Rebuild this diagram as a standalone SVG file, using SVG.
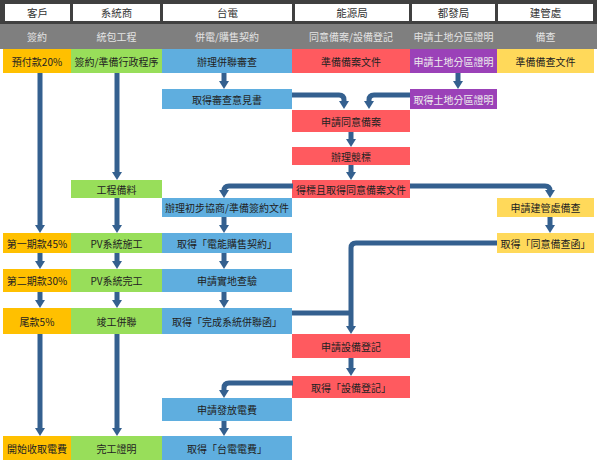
<svg xmlns="http://www.w3.org/2000/svg" width="600" height="466" viewBox="0 0 600 466">
<style>
text{font-family:"Noto Sans CJK TC","Noto Sans CJK SC",sans-serif;font-size:10px;text-anchor:middle;dominant-baseline:central;fill:#222}
.hd{fill:#333;font-size:10.5px}
.sub{fill:#e4e4e4}
.cell{fill:#fff}
.o{fill:#FFC000}
.g{fill:#98DE5A}
.b{fill:#5FAEDF}
.r{fill:#FF5A5F}
.p{fill:#9B41B8}
.y{fill:#FFD95A}
.pt{fill:#eee}
.c path{fill:none;stroke:#34608F;stroke-width:5;marker-end:url(#ah)}
</style>
<defs>
<marker id="ah" markerUnits="userSpaceOnUse" viewBox="0 0 8 10" refX="2" refY="5" markerWidth="8" markerHeight="10" orient="auto">
<path d="M0,0 L8,5 L0,10 z" fill="#34608F"/>
</marker>
</defs>
<rect width="600" height="466" fill="#fff"/>
<g id="header">
<rect x="0" y="0" width="597" height="24" fill="#404040"/>
<rect class="cell" x="5" y="4" width="65" height="17"/>
<rect class="cell" x="73" y="4" width="87" height="17"/>
<rect class="cell" x="163" y="4" width="129" height="17"/>
<rect class="cell" x="295" y="4" width="114" height="17"/>
<rect class="cell" x="412" y="4" width="83" height="17"/>
<rect class="cell" x="498" y="4" width="95" height="17"/>
<text class="hd" x="37.5" y="12.5">客戶</text>
<text class="hd" x="116.5" y="12.5">系統商</text>
<text class="hd" x="227.5" y="12.5">台電</text>
<text class="hd" x="352" y="12.5">能源局</text>
<text class="hd" x="453.5" y="12.5">都發局</text>
<text class="hd" x="545.5" y="12.5">建管處</text>
<rect x="0" y="24" width="597" height="25" fill="#7F7F7F"/>
<text class="sub" x="37" y="36">簽約</text>
<text class="sub" x="116.5" y="36">統包工程</text>
<text class="sub" x="227" y="36">併電/購售契約</text>
<text class="sub" x="351" y="36">同意備案/設備登記</text>
<text class="sub" x="453.5" y="36">申請土地分區證明</text>
<text class="sub" x="545.5" y="36">備查</text>
</g>
<g id="n1"><rect class="o" x="3" y="49" width="68" height="24"/><text x="37" y="61">預付款20%</text></g>
<g id="n2"><rect class="g" x="71" y="49" width="91" height="24"/><text x="116.5" y="61">簽約/準備行政程序</text></g>
<g id="n3"><rect class="b" x="162" y="49" width="130" height="24"/><text x="227" y="61">辦理併聯審查</text></g>
<g id="n4"><rect class="r" x="292" y="49" width="118" height="24"/><text x="351" y="61">準備備案文件</text></g>
<g id="n5"><rect class="p" x="410" y="49" width="87" height="24"/><text class="pt" x="453.5" y="61">申請土地分區證明</text></g>
<g id="n6"><rect class="y" x="497" y="49" width="97" height="24"/><text x="545.5" y="61">準備備查文件</text></g>
<g id="n7"><rect class="b" x="162" y="89" width="130" height="20"/><text x="227" y="99">取得審查意見書</text></g>
<g id="n8"><rect class="p" x="410" y="89" width="87" height="20"/><text class="pt" x="453.5" y="99">取得土地分區證明</text></g>
<g id="n9"><rect class="r" x="292" y="110" width="118" height="22"/><text x="351" y="121">申請同意備案</text></g>
<g id="n10"><rect class="r" x="292" y="147" width="118" height="18"/><text x="351" y="156">辦理競標</text></g>
<g id="n11"><rect class="r" x="292" y="180" width="118" height="18"/><text x="351" y="189">得標且取得同意備案文件</text></g>
<g id="n12"><rect class="g" x="71" y="180" width="91" height="18"/><text x="116.5" y="189">工程備料</text></g>
<g id="n13"><rect class="b" x="162" y="198" width="130" height="19"/><text x="227" y="207.5">辦理初步協商/準備簽約文件</text></g>
<g id="n14"><rect class="y" x="497" y="198" width="97" height="19"/><text x="545.5" y="207.5">申請建管處備查</text></g>
<g id="n15"><rect class="o" x="3" y="233" width="68" height="20"/><text x="37" y="243">第一期款45%</text></g>
<g id="n16"><rect class="g" x="71" y="233" width="91" height="20"/><text x="116.5" y="243">PV系統施工</text></g>
<g id="n17"><rect class="b" x="162" y="233" width="130" height="20"/><text x="227" y="243">取得「電能購售契約」</text></g>
<g id="n18"><rect class="y" x="497" y="233" width="97" height="20"/><text x="545.5" y="243">取得「同意備查函」</text></g>
<g id="n19"><rect class="o" x="3" y="269" width="68" height="23"/><text x="37" y="280.5">第二期款30%</text></g>
<g id="n20"><rect class="g" x="71" y="269" width="91" height="23"/><text x="116.5" y="280.5">PV系統完工</text></g>
<g id="n21"><rect class="b" x="162" y="269" width="130" height="23"/><text x="227" y="280.5">申請實地查驗</text></g>
<g id="n22"><rect class="o" x="3" y="308" width="68" height="26"/><text x="37" y="321">尾款5%</text></g>
<g id="n23"><rect class="g" x="71" y="308" width="91" height="26"/><text x="116.5" y="321">竣工併聯</text></g>
<g id="n24"><rect class="b" x="162" y="308" width="130" height="26"/><text x="227" y="321">取得「完成系統併聯函」</text></g>
<g id="n25"><rect class="r" x="292" y="334" width="118" height="24"/><text x="351" y="346">申請設備登記</text></g>
<g id="n26"><rect class="r" x="292" y="376" width="118" height="22"/><text x="351" y="387">取得「設備登記」</text></g>
<g id="n27"><rect class="b" x="162" y="398" width="130" height="23"/><text x="227" y="409.5">申請發放電費</text></g>
<g id="n28"><rect class="o" x="3" y="436" width="68" height="24"/><text x="37" y="448">開始收取電費</text></g>
<g id="n29"><rect class="g" x="71" y="436" width="91" height="24"/><text x="116.5" y="448">完工證明</text></g>
<g id="n30"><rect class="b" x="162" y="436" width="130" height="24"/><text x="227" y="448">取得「台電電費」</text></g>
<g id="connectors" class="c">
<path d="M40,73 V227"/>
<path d="M40,253 V263"/>
<path d="M40,292 V302"/>
<path d="M40,334 V430"/>
<path d="M117,73 V174"/>
<path d="M117,198 V227"/>
<path d="M117,253 V263"/>
<path d="M117,292 V302"/>
<path d="M117,334 V430"/>
<path d="M224,73 V83"/>
<path d="M224,217 V227"/>
<path d="M224,253 V263"/>
<path d="M224,292 V302"/>
<path d="M224,421 V430"/>
<path d="M458,73 V83"/>
<path d="M292,95 H339 Q344,95 344,100 V103"/>
<path d="M410,95 H374 Q369,95 369,100 V103"/>
<path d="M351,132 V141"/>
<path d="M351,165 V174"/>
<path d="M293,186 H229 Q224,186 224,191 V192"/>
<path d="M410,186 H545 Q550,186 550,191 V192"/>
<path d="M550,217 V227"/>
<path d="M497,243 H356 Q351,243 351,248 V328"/>
<path d="M292,313 H351" style="marker-end:none"/>
<path d="M351,358 V370"/>
<path d="M293,383 H229 Q224,383 224,388 V392"/>
</g>
</svg>
